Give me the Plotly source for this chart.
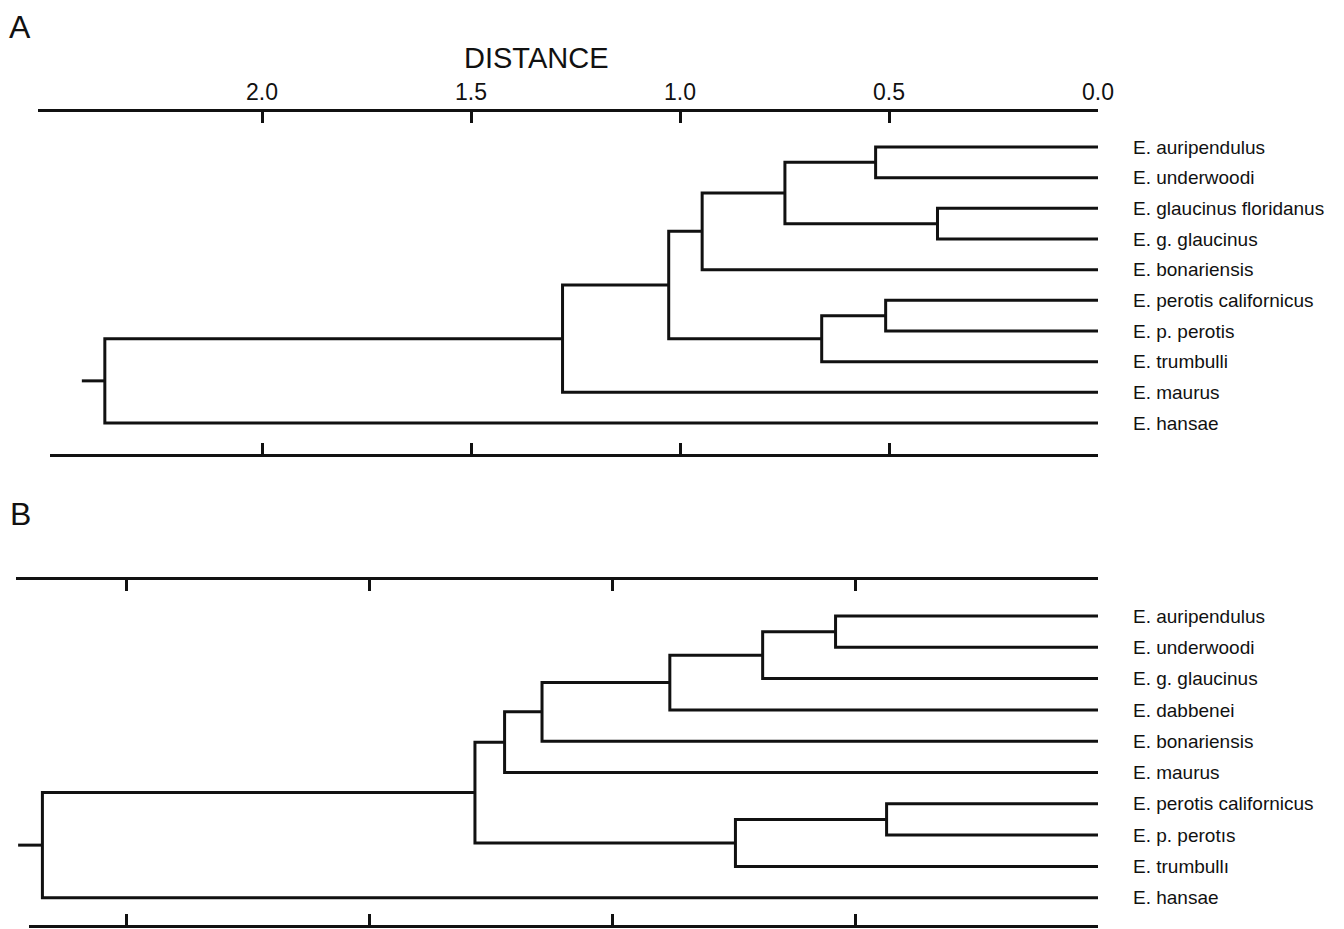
import plotly.graph_objects as go

# ---------------- data ----------------
a_leaves = ["E. auripendulus", "E. underwoodi", "E. glaucinus floridanus", "E. g. glaucinus",
            "E. bonariensis", "E. perotis californicus", "E. p. perotis", "E. trumbulli",
            "E. maurus", "E. hansae"]
# merges: (child, child, distance); leaves are 0..9, merge k gets id 10+k
a_merge_left = [0, 2, 10, 12, 5, 14, 13, 16, 17]
a_merge_right = [1, 3, 11, 4, 6, 7, 15, 8, 9]
a_merge_dist = [0.532, 0.384, 0.749, 0.947, 0.508, 0.661, 1.027, 1.281, 2.376]
a_root_stub = 2.431
a_ticks = [2.0, 1.5, 1.0, 0.5, 0.0]
a_tick_labels = ["2.0", "1.5", "1.0", "0.5", "0.0"]

b_leaves = ["E. auripendulus", "E. underwoodi", "E. g. glaucinus", "E. dabbenei",
            "E. bonariensis", "E. maurus", "E. perotis californicus", "E. p. perotıs",
            "E. trumbullı", "E. hansae"]
b_merge_left = [0, 10, 11, 12, 13, 6, 15, 14, 17]
b_merge_right = [1, 2, 3, 4, 5, 7, 8, 16, 9]
b_merge_dist = [0.540, 0.690, 0.881, 1.144, 1.221, 0.435, 0.746, 1.282, 2.172]
b_root_stub = 2.222
b_ticks = [2.0, 1.5, 1.0, 0.5, 0.0]

# ---------------- geometry helpers ----------------
W, H = 1344, 929
W_EFF = 1328  # effective drawing width observed in the rendered page
FONT = "Liberation Sans, Arial, sans-serif"
INK = "#111111"


def px(p):
    return p / W_EFF


def py(p):
    return 1 - p / H


def tree_path(n, left, right, dist, stub):
    hx = {i: 0.0 for i in range(n)}
    hy = {i: float(i) for i in range(n)}
    xs, ys = [], []
    for k, (a, b, h) in enumerate(zip(left, right, dist)):
        xs += [hx[a], h, h, hx[b], None]
        ys += [hy[a], hy[a], hy[b], hy[b], None]
        hx[n + k] = h
        hy[n + k] = (hy[a] + hy[b]) / 2
    root = n + len(dist) - 1
    xs += [hx[root], stub]
    ys += [hy[root], hy[root]]
    return xs, ys


fig = go.Figure()

ax, ay = tree_path(len(a_leaves), a_merge_left, a_merge_right, a_merge_dist, a_root_stub)
bx, by = tree_path(len(b_leaves), b_merge_left, b_merge_right, b_merge_dist, b_root_stub)

line = dict(color=INK, width=3)
# carriers for the lower scale bars
fig.add_trace(go.Scatter(x=[], y=[], xaxis="x3", yaxis="y", showlegend=False))
fig.add_trace(go.Scatter(x=[], y=[], xaxis="x4", yaxis="y2", showlegend=False))
fig.add_trace(go.Scatter(x=ax, y=ay, mode="lines", line=line, xaxis="x", yaxis="y",
                         hoverinfo="skip", showlegend=False))
fig.add_trace(go.Scatter(x=bx, y=by, mode="lines", line=line, xaxis="x2", yaxis="y2",
                         hoverinfo="skip", showlegend=False))

# panel A scale: 0 at 1098 px, 418 px per unit ; leaves from 147 px every 30.67 px
A0, AK = 1098, 418.0
AY0, AYS = 147, 30.67
# panel B scale: 0 at 1098 px, 486 px per unit ; leaves from 616 px every 31.3 px
B0, BK = 1098, 486.0
BY0, BYS = 616, 31.3


def xax(left, zero, k, pos, side, labels=None, ticks=None):
    d = dict(domain=[px(left), px(zero)], range=[(zero - left) / k, 0], autorange=False,
             anchor="free", position=py(pos), side=side, showline=True, linewidth=3.2,
             linecolor=INK, ticks="inside", ticklen=11, tickwidth=2.8, tickcolor=INK,
             tickvals=ticks, showgrid=False, zeroline=False, fixedrange=True)
    if labels:
        d.update(ticktext=labels, showticklabels=True,
                 tickfont=dict(family=FONT, size=23, color=INK))
    else:
        d.update(showticklabels=False)
    return d


def yax(top, bottom, y0, ys, labels):
    return dict(domain=[py(bottom), py(top)], range=[(bottom - y0) / ys, (top - y0) / ys],
                autorange=False, anchor="free", position=px(1132), side="right",
                showline=False, ticks="", showgrid=False, zeroline=False,
                tickvals=list(range(len(labels))), ticktext=labels,
                tickfont=dict(family=FONT, size=19, color=INK), fixedrange=True)


fig.update_layout(
    width=W, height=H, margin=dict(l=0, r=0, t=0, b=0), autosize=False,
    paper_bgcolor="white", plot_bgcolor="rgba(0,0,0,0)", showlegend=False,
    xaxis=xax(38, A0, AK, 110, "top", a_tick_labels, a_ticks),
    xaxis3=xax(50, A0, AK, 455, "bottom", None, a_ticks),
    xaxis2=xax(16, B0, BK, 578, "top", None, b_ticks),
    xaxis4=xax(29, B0, BK, 926, "bottom", None, b_ticks),
    yaxis=yax(100, 470, AY0, AYS, a_leaves),
    yaxis2=yax(570, 929, BY0, BYS, b_leaves),
    annotations=[
        dict(text="DISTANCE", x=px(536), y=py(58), xref="paper", yref="paper",
             xanchor="center", yanchor="middle",
             showarrow=False, font=dict(family=FONT, size=29, color=INK)),
        dict(text="A", x=px(20), y=py(27), xref="paper", yref="paper",
             xanchor="center", yanchor="middle",
             showarrow=False, font=dict(family=FONT, size=32, color=INK)),
        dict(text="B", x=px(20), y=py(514), xref="paper", yref="paper",
             xanchor="center", yanchor="middle",
             showarrow=False, font=dict(family=FONT, size=32, color=INK)),
    ],
)

fig.write_html("out.html", config={"responsive": False})
